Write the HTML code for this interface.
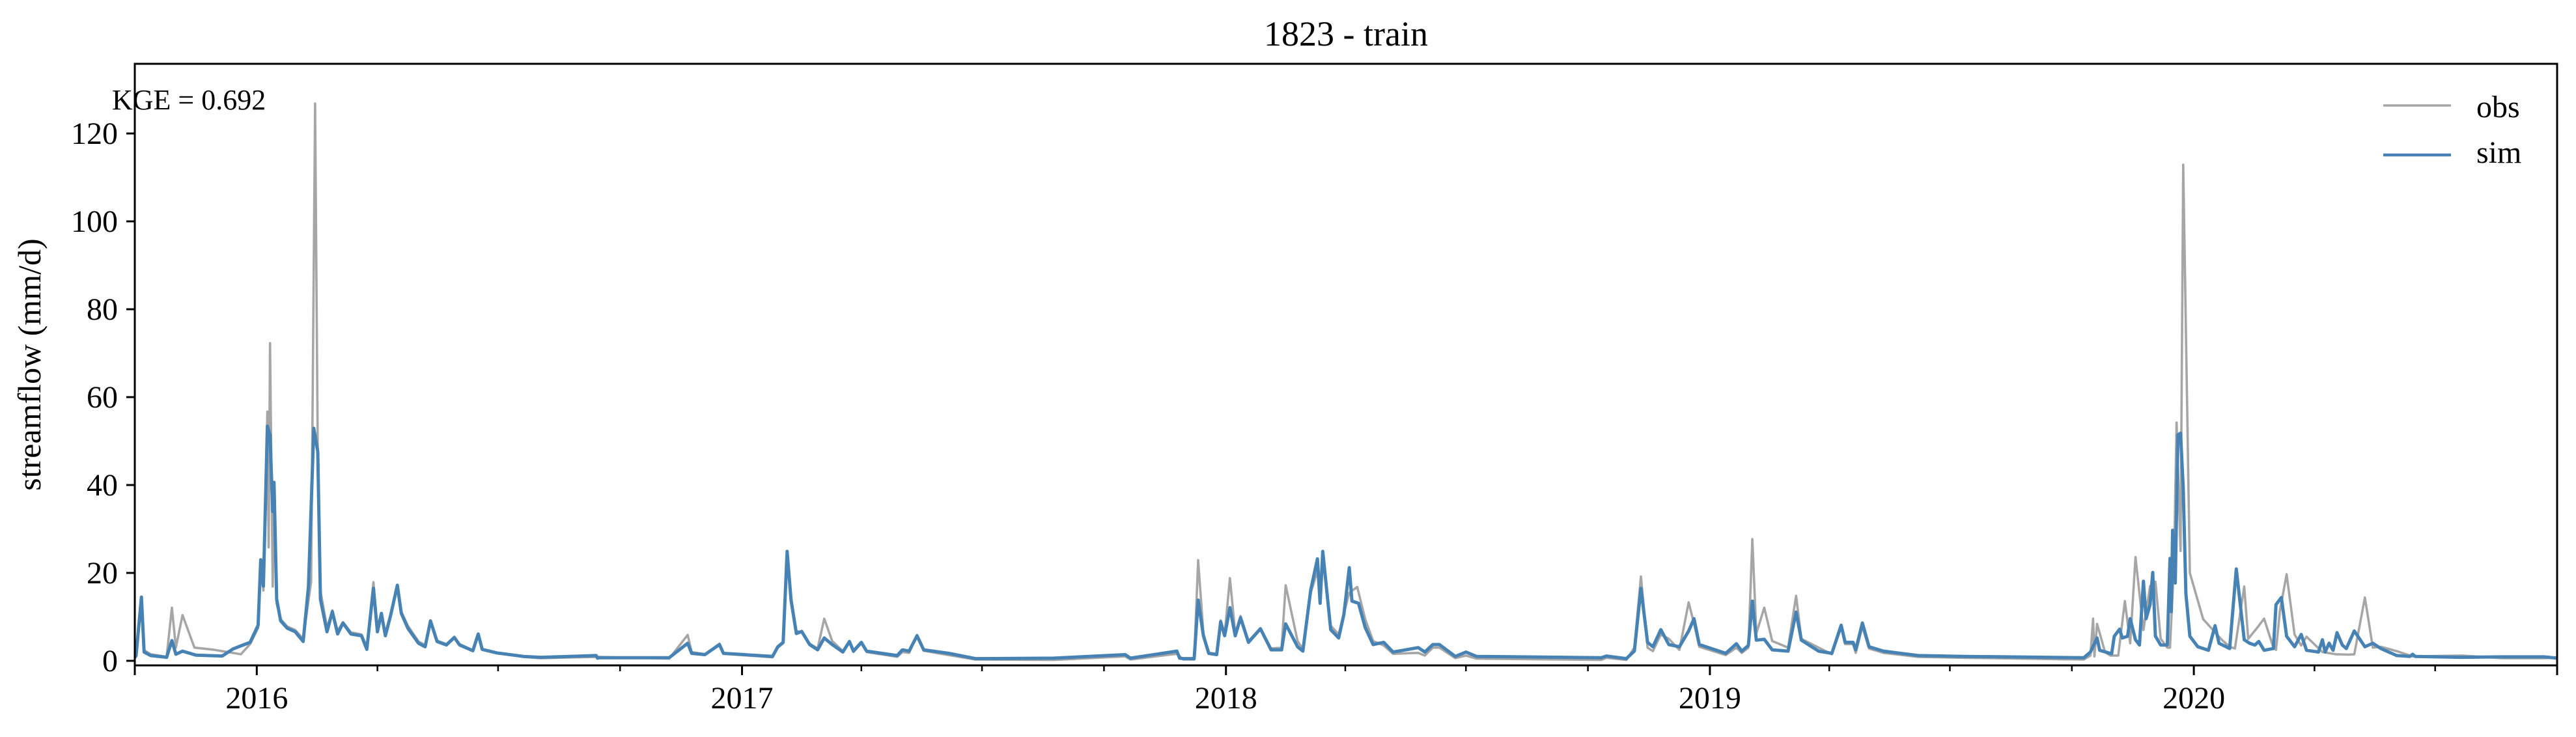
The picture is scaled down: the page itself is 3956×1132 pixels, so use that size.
<!DOCTYPE html>
<html><head><meta charset="utf-8"><style>
html,body{margin:0;padding:0;background:#fff}
svg{display:block}
text{font-family:"Liberation Serif",serif;fill:#000}
</style></head><body>
<svg id="chart" width="3956" height="1132" viewBox="0 0 3956 1132" xmlns="http://www.w3.org/2000/svg">
<text x="2067" y="70" font-size="54" text-anchor="middle">1823 - train</text>
<text transform="translate(62,560) rotate(-90)" font-size="50" text-anchor="middle">streamflow (mm/d)</text>
<g id="plot"></g>
<text x="172" y="168" font-size="44">KGE = 0.692</text>
<g>
<line x1="3660" y1="162" x2="3764" y2="162" stroke="#a6a6a6" stroke-width="3.5"/>
<text x="3803" y="180" font-size="48">obs</text>
<line x1="3660" y1="238" x2="3764" y2="238" stroke="#4682b4" stroke-width="4.5"/>
<text x="3803" y="250" font-size="48">sim</text>
</g>
</svg>
<script>
// data: day offset from 2015-10-01, value in mm/d
const simDays=[0,1,5,7,12,24,28,31,36,46,66,74,80,87,93,95,97,100,102,104,105,107,110,115,121,127,131,135,138,140,145,149,153,157,163,171,175,180,183,186,189,193,198,201,206,214,219,223,228,235,241,245,255,259,262,273,293,306,348,349,350,403,417,420,430,441,444,481,485,489,492,495,499,503,509,515,520,526,534,539,542,548,552,575,579,584,590,595,614,634,693,747,751,786,788,791,799,802,806,810,816,819,822,826,830,834,840,849,857,865,868,877,881,887,892,894,896,902,908,912,916,918,923,928,934,942,949,968,973,979,984,996,1004,1012,1106,1110,1125,1131,1136,1141,1145,1151,1157,1165,1172,1176,1180,1200,1208,1212,1217,1220,1223,1229,1235,1247,1253,1257,1270,1280,1287,1290,1296,1298,1303,1308,1319,1345,1380,1470,1475,1480,1482,1491,1493,1497,1499,1503,1505,1509,1512,1515,1517,1520,1522,1524,1528,1533,1535,1536,1537,1539,1541,1543,1545,1547,1550,1556,1564,1569,1572,1580,1585,1591,1595,1599,1602,1606,1613,1615,1619,1623,1629,1634,1638,1647,1650,1652,1655,1658,1661,1665,1668,1674,1682,1688,1694,1706,1716,1718,1720,1755,1786,1817,1827];
const simVals=[0.8,1.2,14.5,2.0,1.2,0.8,4.6,1.5,2.2,1.3,1.1,2.7,3.4,4.2,8.1,23,17,53.4,51.4,34,40.6,14,9.1,7.4,6.6,4.4,16.9,52.9,47.6,14,6.6,11.2,6.1,8.6,6.1,5.7,2.6,16.5,6.6,10.8,5.7,10.4,17.2,10.8,7.4,4.0,3.2,9.1,4.4,3.6,5.3,3.6,2.3,6.1,2.6,1.8,1.0,0.8,1.2,0.6,0.7,0.7,4.0,1.7,1.4,3.7,1.7,1.0,3.2,4.2,24.9,13.7,6.2,6.7,3.7,2.5,5.2,3.7,2.0,4.4,2.2,4.2,2.2,1.2,2.5,2.2,5.7,2.5,1.7,0.5,0.6,1.4,0.6,2.2,0.6,0.5,0.5,13.8,5.7,1.7,1.4,8.9,5.7,12.1,5.7,9.8,4.2,7.3,2.5,2.5,8.4,3.2,2.2,16.2,23.2,13.1,24.9,7.1,5.2,10.6,21.2,13.6,13.1,7.6,3.7,4.2,2.0,3.0,2.0,3.7,3.7,1.0,2.0,1.0,0.7,1.1,0.5,2.2,16.5,4.2,3.2,7.1,3.7,3.2,6.8,9.6,3.7,1.7,3.9,2.2,3.5,13.6,4.7,4.9,2.5,2.2,11.1,4.7,2.2,1.7,8.1,4.2,4.2,2.5,8.6,3.2,2.2,1.2,1.0,0.7,2.0,5.2,2.4,1.6,5.6,7.2,5.2,5.6,9.6,4.8,3.6,18.1,9.6,12.8,20.1,5.6,3.6,3.6,23.3,11.2,29.7,17.7,51.4,51.8,39.4,15.3,5.6,3.2,2.4,8.0,4.0,2.8,20.9,4.8,4.0,3.6,4.4,2.4,2.8,12.8,14.4,5.6,3.2,6.0,2.4,2.0,4.8,2.0,4.0,2.4,6.4,3.6,2.8,6.8,3.2,4.0,2.8,1.2,1.0,1.5,1.0,0.8,0.9,0.9,0.6];
const obsDays=[0,1,5,7,12,24,28,31,36,45,60,80,87,93,95,97,100,101,102,104,105,107,110,115,121,127,133,136,138,140,145,149,153,157,163,171,175,180,183,186,189,193,198,201,206,214,219,223,228,235,241,245,255,259,262,273,293,306,348,403,417,420,430,441,444,481,485,489,492,495,499,503,509,515,520,526,534,539,542,548,552,575,579,584,590,595,614,634,693,747,751,786,791,799,802,806,810,816,819,822,826,830,834,840,849,857,865,868,877,881,887,892,894,896,902,908,912,916,922,928,934,942,949,968,973,979,984,996,1004,1012,1106,1110,1125,1131,1136,1141,1145,1151,1157,1165,1172,1176,1180,1200,1208,1212,1217,1220,1223,1229,1235,1247,1253,1257,1270,1280,1287,1290,1296,1298,1303,1308,1319,1345,1380,1470,1475,1477,1478,1480,1486,1490,1496,1501,1505,1509,1515,1520,1524,1528,1533,1535,1538,1540,1543,1545,1550,1560,1574,1580,1584,1591,1594,1601,1606,1613,1615,1618,1623,1629,1634,1638,1650,1660,1670,1674,1682,1688,1694,1706,1718,1755,1786,1817,1827];
const obsVals=[0.6,1.0,13.5,2.4,1.5,0.9,12.1,3.0,10.4,3.0,2.5,1.5,3.8,7.5,21,16,56.7,25.8,72.3,16.9,38,13,9.5,7.8,7.0,5.0,18,126.8,47.6,16,7.5,11.5,6.8,8.8,6.5,6.0,3.2,17.9,7.0,10.5,6.2,10.6,17.0,11.2,8.0,4.4,3.6,8.8,4.6,3.8,5.5,3.8,2.4,5.8,2.6,1.7,0.9,0.6,0.9,0.5,5.9,2.0,1.5,3.9,1.6,0.8,3.0,4.0,24.2,14.5,6.8,6.5,3.9,2.8,9.6,4.5,2.2,4.3,2.0,4.0,2.0,0.9,2.0,1.8,5.9,2.3,1.3,0.3,0.2,1.0,0.3,1.6,0.3,0.3,22.9,6.2,1.8,1.6,9.2,6.0,18.8,6.2,10.2,4.5,7.4,2.8,3.0,17.2,4.5,2.6,15.5,20.5,13.5,23.8,8.0,6.0,10.8,15.5,16.8,9.5,4.5,3.5,1.6,1.8,1.2,3.0,3.0,0.6,1.2,0.5,0.2,0.7,0.2,3.0,19.2,3.0,2.2,6.0,5.0,2.5,13.3,8.5,3.2,1.3,3.0,1.8,3.0,27.7,6.2,12.1,4.5,3.0,14.8,5.0,3.0,1.5,7.6,3.8,3.8,1.8,7.8,2.8,1.8,0.9,0.7,0.3,1.2,9.6,1.0,8.4,2.0,1.2,1.2,13.6,4.0,23.6,7.0,17,18,5.0,3.0,3.0,22,54.2,25,112.9,20,9.5,4.8,3.2,2.8,16.9,5.0,7.6,9.6,3.0,2.5,11.5,19.7,6.0,3.5,5.5,2.0,1.5,1.4,1.5,14.4,3.0,3.2,2.2,1.0,1.2,0.6,0.6,0.8,0.6];
const yTicks=[0,20,40,60,80,100,120];
const yearLabels=["2016","2017","2018","2019","2020"];

const NS="http://www.w3.org/2000/svg";
const L=207,R=3927,T=98,B=1022,V0=-1.04,V1=135.85,DMAX=1827;
const xs=d=>L+(R-L)*d/DMAX;
const ys=v=>B-(B-T)*(v-V0)/(V1-V0);
const plot=document.getElementById('plot');
function mk(tag,attrs){const e=document.createElementNS(NS,tag);for(const k in attrs)e.setAttribute(k,attrs[k]);return e;}
const day0=Date.UTC(2015,9,1);
const dayOf=(y,m)=>Math.round((Date.UTC(y,m,1)-day0)/86400000);

function series(days,vals,color,w,name){
  const pts=days.map((d,i)=>xs(d).toFixed(1)+','+ys(vals[i]).toFixed(1)).join(' ');
  const p=mk('polyline',{points:pts,fill:'none',stroke:color,'stroke-width':w,'stroke-linejoin':'round'});
  
  
  plot.appendChild(p);
}
series(obsDays,obsVals,'#a6a6a6',3.6,'obs-line');
series(simDays,simVals,'#4682b4',5,'sim-line');

yTicks.forEach(v=>{
  const y=ys(v);
  const t=mk('line',{x1:L-13,x2:L,y1:y,y2:y,stroke:'#000','stroke-width':3});
  
  
  plot.appendChild(t);
  const tx=mk('text',{x:L-26,y:y+16,'font-size':48,'text-anchor':'end'});
  tx.textContent=v;
  
  
  plot.appendChild(tx);
});
for(let y=2015;y<=2020;y++){for(let m=0;m<12;m+=3){
  const d=dayOf(y,m); if(d<0||d>DMAX)continue;
  const major=(m===0)||d===0||d===DMAX;
  const x=xs(d);
  const t=mk('line',{x1:x,x2:x,y1:B,y2:B+(major?15:9),stroke:'#000','stroke-width':major?3:2.5});
  
  
  plot.appendChild(t);
}}
yearLabels.forEach(lbl=>{
  const x=xs(dayOf(+lbl,0));
  const tx=mk('text',{x:x,y:1088,'font-size':48,'text-anchor':'middle'});
  tx.textContent=lbl;
  
  
  plot.appendChild(tx);
});
const frame=mk('rect',{x:L,y:T,width:R-L,height:B-T,fill:'none',stroke:'#000','stroke-width':3});


plot.appendChild(frame);
</script>
</body></html>
